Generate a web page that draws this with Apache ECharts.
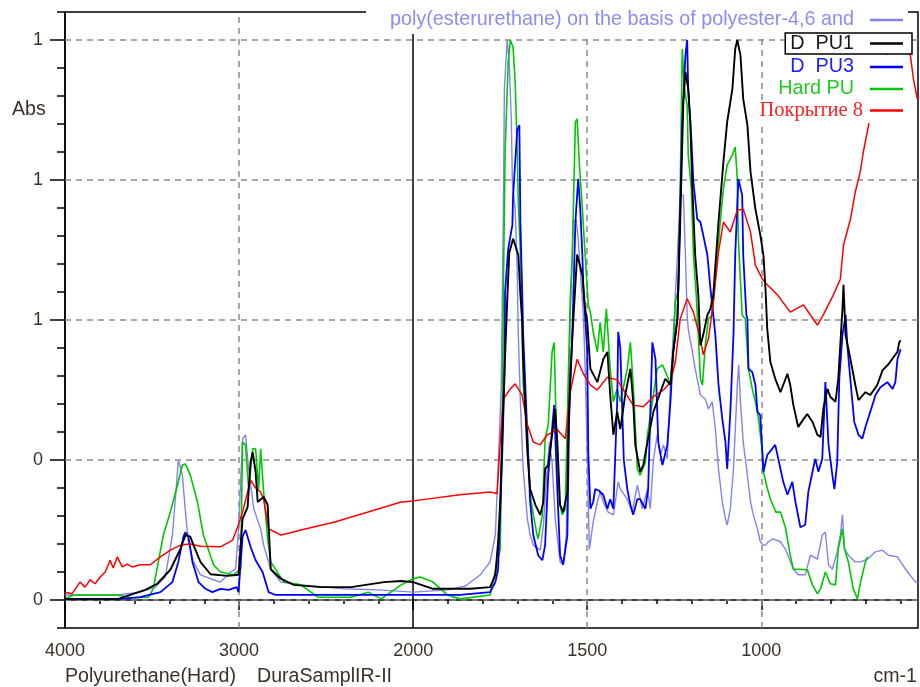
<!DOCTYPE html>
<html>
<head>
<meta charset="utf-8">
<script src="https://cdn.jsdelivr.net/npm/echarts@6/dist/echarts.min.js"></script>
<style>
  html, body { margin: 0; padding: 0; background: #fff; }
  #chart { width: 920px; height: 687px; }
</style>
</head>
<body>
<div id="chart"></div>
<script>
// Spectra: [wavenumber cm-1, absorbance]
const polyEsterUrethane = [
  [4000,0.009],[3700,0.009],[3568,0.014],[3481,0.023],[3424,0.041],[3383,0.116],[3360,0.205],[3349,0.25],
  [3326,0.223],[3308,0.157],[3291,0.104],[3262,0.068],[3222,0.045],[3164,0.038],[3107,0.032],[3049,0.05],
  [3020,0.055],[3003,0.127],[2980,0.288],[2963,0.295],[2945,0.234],[2916,0.163],[2876,0.127],[2859,0.098],
  [2818,0.055],[2761,0.032],[2645,0.027],[2400,0.02],[2200,0.018],[2000,0.014],[1900,0.018],[1850,0.025],
  [1807,0.045],[1779,0.068],[1764,0.116],[1756,0.234],[1747,0.384],[1741,0.69],[1738,0.913],[1730,1.0],
  [1724,0.96],[1718,0.854],[1715,0.746],[1707,0.698],[1701,0.586],[1698,0.473],[1692,0.354],[1684,0.234],
  [1672,0.145],[1664,0.116],[1655,0.098],[1635,0.089],[1626,0.134],[1615,0.234],[1609,0.282],[1601,0.246],
  [1592,0.145],[1578,0.068],[1569,0.063],[1560,0.116],[1555,0.295],[1549,0.5],[1540,0.675],[1532,0.68],
  [1526,0.645],[1520,0.586],[1511,0.509],[1506,0.413],[1500,0.264],[1494,0.09],[1483,0.139],[1471,0.175],
  [1463,0.193],[1454,0.175],[1440,0.157],[1425,0.152],[1411,0.211],[1405,0.198],[1385,0.18],[1371,0.157],
  [1356,0.205],[1342,0.163],[1327,0.198],[1319,0.163],[1310,0.25],[1299,0.295],[1290,0.259],[1281,0.277],
  [1270,0.252],[1261,0.384],[1253,0.473],[1241,0.616],[1233,0.723],[1224,0.723],[1218,0.616],[1213,0.509],
  [1210,0.484],[1198,0.443],[1190,0.413],[1175,0.366],[1161,0.359],[1152,0.341],[1141,0.354],[1132,0.305],
  [1123,0.234],[1112,0.175],[1103,0.145],[1098,0.134],[1089,0.163],[1080,0.234],[1069,0.384],[1065,0.42],
  [1060,0.354],[1052,0.282],[1040,0.223],[1031,0.175],[1023,0.152],[1011,0.127],[1003,0.104],[994,0.098],
  [988,0.098],[980,0.104],[966,0.109],[945,0.104],[931,0.091],[908,0.055],[894,0.045],[874,0.045],
  [859,0.08],[839,0.073],[825,0.116],[816,0.121],[807,0.063],[796,0.055],[782,0.086],[773,0.116],
  [767,0.152],[761,0.091],[750,0.08],[730,0.068],[715,0.068],[695,0.073],[672,0.086],[652,0.089],
  [635,0.08],[609,0.077],[600,0.068],[580,0.05],[557,0.032],[550,0.03]
];

const dPU1 = [
  [4000,0.002],[3694,0.002],[3608,0.011],[3539,0.018],[3470,0.029],[3395,0.054],[3337,0.091],[3308,0.116],
  [3280,0.113],[3262,0.098],[3222,0.068],[3164,0.046],[3066,0.043],[3003,0.045],[2980,0.145],[2951,0.166],
  [2934,0.246],[2922,0.264],[2905,0.229],[2893,0.175],[2859,0.184],[2836,0.17],[2818,0.055],[2761,0.038],
  [2686,0.027],[2530,0.023],[2357,0.023],[2167,0.032],[2069,0.034],[2000,0.032],[1943,0.02],[1836,0.02],
  [1779,0.023],[1764,0.045],[1756,0.104],[1750,0.175],[1741,0.354],[1730,0.532],[1724,0.62],[1713,0.645],
  [1698,0.616],[1692,0.545],[1687,0.5],[1684,0.43],[1672,0.264],[1664,0.198],[1649,0.17],[1635,0.152],
  [1626,0.175],[1621,0.234],[1612,0.241],[1601,0.295],[1592,0.341],[1586,0.282],[1578,0.17],[1569,0.157],
  [1557,0.193],[1555,0.282],[1549,0.4],[1540,0.5],[1529,0.617],[1514,0.58],[1506,0.52],[1500,0.496],
  [1491,0.413],[1471,0.389],[1454,0.43],[1442,0.443],[1434,0.366],[1425,0.295],[1414,0.336],[1405,0.305],
  [1391,0.366],[1376,0.413],[1368,0.354],[1362,0.277],[1348,0.229],[1339,0.241],[1327,0.282],[1310,0.336],
  [1290,0.371],[1276,0.395],[1261,0.384],[1253,0.443],[1241,0.502],[1233,0.675],[1224,0.889],[1218,0.943],
  [1210,0.913],[1204,0.854],[1198,0.734],[1190,0.616],[1181,0.545],[1175,0.455],[1167,0.473],[1155,0.509],
  [1146,0.52],[1138,0.545],[1123,0.675],[1109,0.782],[1098,0.854],[1083,0.913],[1075,0.984],[1069,1.0],
  [1060,0.973],[1052,0.895],[1040,0.848],[1031,0.764],[1017,0.698],[1003,0.652],[994,0.616],[988,0.555],
  [983,0.484],[974,0.425],[960,0.395],[945,0.371],[925,0.404],[917,0.384],[908,0.348],[894,0.309],
  [879,0.323],[868,0.332],[853,0.318],[839,0.295],[830,0.291],[822,0.341],[810,0.377],[802,0.363],
  [787,0.354],[779,0.395],[767,0.52],[764,0.563],[758,0.473],[744,0.43],[730,0.384],[721,0.357],
  [701,0.371],[687,0.366],[667,0.384],[652,0.41],[635,0.421],[620,0.434],[609,0.443],[604,0.46],[600,0.464]
];

const dPU3 = [
  [4000,0.002],[3680,0.002],[3568,0.005],[3452,0.014],[3383,0.032],[3349,0.068],[3320,0.113],[3308,0.121],
  [3291,0.113],[3268,0.068],[3233,0.032],[3193,0.02],[3153,0.014],[3107,0.02],[3060,0.018],[3014,0.023],
  [3003,0.014],[2980,0.113],[2963,0.125],[2934,0.095],[2905,0.071],[2865,0.05],[2830,0.014],[2790,0.009],
  [2645,0.009],[2000,0.009],[1865,0.009],[1779,0.014],[1764,0.032],[1756,0.055],[1744,0.264],[1738,0.395],
  [1736,0.55],[1727,0.627],[1715,0.67],[1713,0.723],[1701,0.84],[1695,0.848],[1692,0.675],[1687,0.555],
  [1684,0.473],[1672,0.295],[1664,0.175],[1655,0.116],[1641,0.08],[1629,0.071],[1621,0.098],[1612,0.223],
  [1601,0.305],[1595,0.348],[1586,0.198],[1578,0.08],[1569,0.063],[1557,0.116],[1552,0.323],[1543,0.473],
  [1534,0.675],[1526,0.752],[1520,0.698],[1514,0.616],[1511,0.555],[1500,0.443],[1497,0.264],[1491,0.163],
  [1483,0.175],[1477,0.198],[1468,0.196],[1454,0.188],[1442,0.163],[1434,0.18],[1425,0.163],[1414,0.354],
  [1411,0.479],[1405,0.45],[1395,0.25],[1385,0.198],[1376,0.17],[1368,0.152],[1356,0.18],[1348,0.18],
  [1333,0.163],[1325,0.198],[1313,0.46],[1304,0.43],[1296,0.282],[1284,0.241],[1270,0.277],[1261,0.354],
  [1253,0.443],[1241,0.502],[1227,0.854],[1218,0.973],[1213,1.0],[1210,0.913],[1201,0.823],[1195,0.746],
  [1184,0.68],[1175,0.675],[1167,0.652],[1155,0.616],[1146,0.555],[1138,0.509],[1132,0.473],[1123,0.384],
  [1112,0.323],[1103,0.282],[1098,0.234],[1089,0.336],[1080,0.473],[1075,0.616],[1066,0.752],[1055,0.723],
  [1052,0.616],[1043,0.509],[1040,0.502],[1037,0.413],[1026,0.407],[1017,0.384],[1011,0.336],[1003,0.33],
  [994,0.229],[983,0.259],[960,0.277],[945,0.234],[937,0.211],[925,0.188],[911,0.211],[902,0.175],
  [888,0.13],[874,0.134],[865,0.193],[853,0.229],[845,0.252],[836,0.229],[825,0.252],[816,0.389],
  [807,0.277],[796,0.223],[790,0.198],[782,0.246],[776,0.395],[767,0.473],[758,0.509],[753,0.455],
  [741,0.371],[733,0.318],[721,0.295],[710,0.288],[701,0.309],[687,0.336],[672,0.366],[658,0.38],
  [638,0.389],[623,0.377],[615,0.389],[609,0.43],[600,0.448]
];

const hardPU = [
  [4000,0.002],[3950,0.009],[3700,0.009],[3620,0.004],[3520,0.005],[3493,0.02],[3464,0.068],[3435,0.116],
  [3395,0.157],[3354,0.205],[3326,0.241],[3308,0.243],[3280,0.223],[3239,0.175],[3205,0.116],[3147,0.063],
  [3107,0.05],[3032,0.045],[2991,0.055],[2980,0.282],[2963,0.277],[2945,0.198],[2922,0.27],[2905,0.27],
  [2888,0.198],[2876,0.27],[2859,0.193],[2836,0.109],[2818,0.068],[2743,0.032],[2645,0.027],[2547,0.005],
  [2357,0.005],[2259,0.014],[2184,0.002],[2069,0.027],[2000,0.038],[1980,0.041],[1943,0.032],[1902,0.009],
  [1865,0.002],[1779,0.009],[1750,0.091],[1744,0.323],[1741,0.55],[1736,0.8],[1727,0.96],[1721,1.0],
  [1713,0.987],[1707,0.925],[1701,0.8],[1698,0.71],[1692,0.62],[1687,0.48],[1684,0.384],[1672,0.295],
  [1664,0.188],[1655,0.152],[1644,0.116],[1641,0.109],[1629,0.152],[1621,0.288],[1612,0.313],[1601,0.443],
  [1595,0.46],[1589,0.305],[1580,0.175],[1572,0.152],[1563,0.163],[1555,0.384],[1549,0.532],[1543,0.616],
  [1534,0.854],[1529,0.859],[1523,0.782],[1514,0.698],[1506,0.616],[1497,0.527],[1491,0.514],[1483,0.479],
  [1471,0.443],[1463,0.496],[1454,0.443],[1445,0.52],[1434,0.413],[1425,0.354],[1414,0.377],[1405,0.354],
  [1385,0.413],[1376,0.46],[1368,0.384],[1356,0.234],[1348,0.223],[1333,0.246],[1327,0.295],[1313,0.354],
  [1299,0.413],[1284,0.42],[1270,0.4],[1261,0.384],[1253,0.443],[1247,0.532],[1238,0.555],[1233,0.734],
  [1227,0.984],[1221,0.913],[1213,0.884],[1210,0.795],[1201,0.734],[1195,0.616],[1187,0.545],[1181,0.473],
  [1175,0.395],[1169,0.384],[1161,0.455],[1152,0.502],[1141,0.509],[1126,0.616],[1118,0.675],[1109,0.734],
  [1098,0.777],[1083,0.795],[1075,0.809],[1069,0.752],[1066,0.645],[1055,0.509],[1046,0.502],[1037,0.413],
  [1026,0.377],[1017,0.354],[1008,0.323],[997,0.264],[994,0.229],[983,0.2],[974,0.18],[958,0.157],
  [945,0.157],[931,0.13],[917,0.08],[908,0.055],[894,0.055],[868,0.054],[853,0.027],[839,0.011],
  [830,0.02],[816,0.05],[802,0.029],[787,0.027],[779,0.091],[767,0.127],[761,0.091],[750,0.068],
  [736,0.02],[724,0.002],[715,0.032],[701,0.068],[695,0.077]
];

const pokrytie8 = [
  [4000,0.014],[3960,0.011],[3914,0.032],[3885,0.023],[3856,0.036],[3827,0.029],[3798,0.041],[3769,0.05],
  [3741,0.071],[3723,0.057],[3700,0.077],[3671,0.059],[3643,0.064],[3614,0.059],[3568,0.063],[3510,0.063],
  [3452,0.077],[3395,0.089],[3337,0.098],[3280,0.1],[3222,0.096],[3107,0.095],[3037,0.107],[3009,0.13],
  [2980,0.157],[2951,0.193],[2934,0.214],[2905,0.2],[2876,0.193],[2859,0.18],[2830,0.127],[2790,0.121],
  [2761,0.116],[2703,0.12],[2645,0.125],[2455,0.139],[2259,0.157],[2069,0.175],[2000,0.177],[1865,0.188],
  [1779,0.193],[1759,0.19],[1750,0.282],[1741,0.359],[1721,0.377],[1707,0.386],[1687,0.366],[1672,0.313],
  [1655,0.282],[1635,0.277],[1615,0.295],[1586,0.304],[1563,0.288],[1549,0.371],[1529,0.43],[1511,0.404],
  [1491,0.384],[1471,0.375],[1442,0.398],[1414,0.393],[1405,0.384],[1368,0.348],[1339,0.345],[1310,0.363],
  [1281,0.375],[1261,0.389],[1247,0.425],[1233,0.502],[1213,0.538],[1195,0.514],[1175,0.466],[1167,0.438],
  [1152,0.466],[1138,0.532],[1123,0.621],[1109,0.675],[1089,0.657],[1069,0.696],[1052,0.698],[1031,0.657],
  [1017,0.598],[997,0.573],[983,0.563],[954,0.545],[917,0.514],[879,0.527],[859,0.509],[839,0.491],
  [822,0.509],[793,0.545],[773,0.573],[764,0.634],[744,0.68],[730,0.729],[716,0.764],[707,0.8],
  [692,0.848],[665,0.93],[630,0.99],[600,1.0],[580,0.99],[572,0.973],[563,0.93],[552,0.895]
];

const xTickWavenumbers = [4000, 3000, 2000, 1500, 1000];
const xGridWavenumbers = [3000, 1500, 1000];
const yTickValues = [0, 0.25, 0.5, 0.75, 1];

const FONT = 'Liberation Sans, Arial, sans-serif';
const LABEL_COLOR = '#3a3127';

// 4000–2000 cm-1 is drawn at half the scale of 2000–550 cm-1
function axisPos(w) { return w >= 2000 ? (4000 - w) / 2 : 1000 + (2000 - w); }
function wavenumberAt(p) { return p <= 1000 ? 4000 - 2 * p : 2000 - (p - 1000); }
const toXY = arr => arr.map(([w, a]) => [axisPos(w), a]);

const X_MAX = axisPos(550);
const xMajorPos = xTickWavenumbers.map(axisPos);
// minor ticks every 200 cm-1 above 2000 and every 100 cm-1 below: one step of 100 axis units
const xMinorPos = [];
for (let p = 0; p < X_MAX; p += 100) xMinorPos.push(p);

const gridDash = { color: '#8a8a8a', width: 1.5, type: [6, 5] };

const guideLines = []
  .concat(yTickValues.map(v => ({ yAxis: v, lineStyle: gridDash })))
  .concat(xGridWavenumbers.map(w => ({ xAxis: axisPos(w), lineStyle: gridDash })))
  .concat([{ xAxis: axisPos(2000), lineStyle: { color: '#000', width: 1.5, type: 'solid' } }]);

const spectra = [
  { name: 'poly(esterurethane) on the basis of polyester-4,6 and', data: polyEsterUrethane, color: '#8282f0', width: 1.4 },
  { name: 'Hard PU', data: hardPU, color: '#00c800', width: 1.6 },
  { name: 'D  PU3', data: dPU3, color: '#0000ff', width: 1.8 },
  { name: 'Покрытие 8', data: pokrytie8, color: '#ff0000', width: 1.5 },
  { name: 'D  PU1', data: dPU1, color: '#000000', width: 1.9 }
];

// grid guides sit under the spectra and under the legend boxes
const series = [{
  type: 'line', data: [], silent: true, z: 1,
  markLine: { silent: true, z: 1, symbol: 'none', label: { show: false }, animation: false, data: guideLines }
}].concat(spectra.map(s => ({
  name: s.name, type: 'line', data: toXY(s.data), showSymbol: false, symbol: 'none',
  color: s.color, lineStyle: { color: s.color, width: s.width }, z: 3
})));

function legendItem(name, top, color, opts) {
  return Object.assign({
    data: [name], orient: 'vertical', right: 12, top: top, align: 'right', z: 10,
    icon: 'rect', itemWidth: 33, itemHeight: 2.5, selectedMode: false, backgroundColor: '#fff',
    padding: [1, 5, 1, 5],
    textStyle: { fontFamily: FONT, fontSize: 19.8, lineHeight: 20, color: color, padding: [0, 11, 0, 0] }
  }, opts || {});
}

const legends = [
  legendItem('poly(esterurethane) on the basis of polyester-4,6 and', 5, '#8c8cf2', { padding: [5, 5, 4, 24] }),
  legendItem('D  PU1', 33, '#1a1a1a', { right: 8, padding: [0.5, 9, 0.5, 5], borderColor: '#000', borderWidth: 1.5 }),
  legendItem('D  PU3', 55, '#1e1eff', { padding: [2, 5, 1, 5] }),
  legendItem('Hard PU', 78, '#22cc22', { padding: [1, 5, 1, 5] }),
  legendItem('Покрытие 8', 100, '#ff2020', {
    padding: [0, 5, 2, 5],
    textStyle: { fontFamily: 'Liberation Serif, Times New Roman, serif', fontSize: 20.5, lineHeight: 20, color: '#ff2020', padding: [0, 2, 0, 0] }
  })
];

const TEXT_FONT = '19.6px ' + FONT;

const chart = echarts.init(document.getElementById('chart'), null, { renderer: 'canvas' });
chart.setOption({
  animation: false,
  backgroundColor: '#fff',
  grid: { left: 65, right: 2, top: 12, bottom: 59, show: true, borderColor: '#000', borderWidth: 1.5 },
  xAxis: [
    {
      type: 'value', min: 0, max: X_MAX,
      axisLine: { lineStyle: { color: '#000', width: 1.5 } },
      axisTick: { length: 4, customValues: xMinorPos, lineStyle: { color: '#000', width: 1.5 } },
      axisLabel: { show: false }, splitLine: { show: false }
    },
    {
      type: 'value', position: 'bottom', min: 0, max: X_MAX,
      axisLine: { show: false },
      axisTick: { length: 10, customValues: xMajorPos, lineStyle: { color: '#000', width: 1.5 } },
      axisLabel: {
        customValues: xMajorPos, margin: 14, fontFamily: FONT, fontSize: 18, color: LABEL_COLOR,
        formatter: v => String(wavenumberAt(v))
      },
      splitLine: { show: false }
    }
  ],
  yAxis: [
    {
      type: 'value', min: -0.05, max: 1.05, interval: 0.05,
      axisLine: { show: true, lineStyle: { color: '#000', width: 1.5 } },
      axisTick: { show: true, length: 8, lineStyle: { color: '#000', width: 1.5 } },
      axisLabel: { show: false }, splitLine: { show: false }
    },
    {
      type: 'value', position: 'left', min: -0.05, max: 1.05,
      axisLine: { show: false },
      axisTick: { show: true, length: 15, customValues: yTickValues, lineStyle: { color: '#000', width: 1.5 } },
      axisLabel: {
        customValues: yTickValues, margin: 22, fontFamily: FONT, fontSize: 18, color: LABEL_COLOR,
        formatter: v => String(Math.round(v))
      },
      splitLine: { show: false }
    }
  ],
  legend: legends,
  series: series,
  graphic: [
    { type: 'text', left: 12, top: 100, style: { text: 'Abs', font: TEXT_FONT, fill: LABEL_COLOR } },
    { type: 'text', left: 65, top: 667, style: { text: 'Polyurethane(Hard)', font: TEXT_FONT, fill: LABEL_COLOR } },
    { type: 'text', left: 257, top: 667, style: { text: 'DuraSamplIR-II', font: TEXT_FONT, fill: LABEL_COLOR } },
    { type: 'text', right: 3, top: 667, style: { text: 'cm-1', font: TEXT_FONT, fill: LABEL_COLOR } }
  ]
});
</script>
</body>
</html>
